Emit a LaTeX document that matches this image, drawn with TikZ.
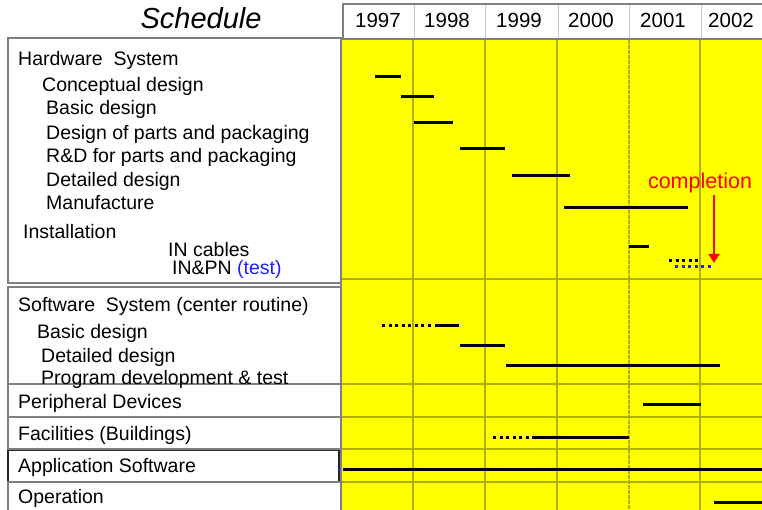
\documentclass[tikz,border=0pt]{standalone}
\usepackage{fontspec}
\setmainfont{Liberation Sans}
\usetikzlibrary{arrows.meta}
\definecolor{ylw}{RGB}{255,255,0}
\definecolor{grd}{RGB}{175,175,0}
\definecolor{bx}{RGB}{128,128,128}
\definecolor{hdsep}{RGB}{200,200,200}
\definecolor{tblue}{RGB}{30,30,255}
\definecolor{tred}{RGB}{255,0,0}
\begin{document}
\begin{tikzpicture}[x=1pt,y=-1pt,
  lbl/.style={anchor=base west,inner sep=0pt,font=\fontsize{19.5}{22}\selectfont},
  yearlbl/.style={anchor=base,inner sep=0pt,font=\fontsize{20.5}{23}\selectfont},
  box/.style={draw=bx,line width=1.2pt},
  gridln/.style={draw=grd,line width=1.3pt},
  bar/.style={line width=3pt},
  dotbar/.style={line width=3pt,dash pattern=on 3pt off 3.5pt},
  bluedot/.style={draw=tblue,line width=3pt,dash pattern=on 3pt off 3.5pt}]
\useasboundingbox (0,0) rectangle (762,510);
% yellow chart area
\fill[ylw] (341,40) rectangle (762,510);
\foreach \x in {413,485,557,700} \draw[gridln] (\x,40) -- (\x,510);
\draw[gridln,dash pattern=on 4pt off 1pt] (629,40) -- (629,510);
\foreach \y in {279,384,417,449,482} \draw[gridln] (341,\y) -- (762,\y);
\draw[bx,line width=1.2pt] (341,40) -- (341,510);
% header
\draw[box,fill=white] (343,4) rectangle (775,39);
\foreach \x in {414,485,558,629,701} \draw[hdsep,line width=1pt] (\x,5) -- (\x,38);
\node[anchor=base,inner sep=0pt,font=\fontsize{29}{32}\selectfont\itshape] (sched) at (201,29) {Schedule};
\node[yearlbl] (y97) at (378,28) {1997};
\node[yearlbl] (y98) at (447,28) {1998};
\node[yearlbl] (y99) at (519,28) {1999};
\node[yearlbl] (y00) at (591,28) {2000};
\node[yearlbl] (y01) at (663,28) {2001};
\node[yearlbl] (y02) at (731,28) {2002};
% left boxes
\draw[box] (8,38) rectangle (341,283);
\draw[box] (8,287) rectangle (341,384);
\draw[box] (8,384) rectangle (341,417);
\draw[box] (8,417) rectangle (341,449);
\draw[draw=black!85,line width=1.3pt] (8,450.5) rectangle (339,482);
\draw[box] (8,515) -- (8,482) -- (341,482);
% labels hardware
\node[lbl] (hw) at (18,66) {Hardware\ \ System};
\node[lbl] (hw1) at (42,92) {Conceptual design};
\node[lbl] (hw2) at (46,115) {Basic design};
\node[lbl] (hw3) at (46,140) {Design of parts and packaging};
\node[lbl] (hw4) at (46,163) {R\&D for parts and packaging};
\node[lbl] (hw5) at (46,187) {Detailed design};
\node[lbl] (hw6) at (46,210) {Manufacture};
\node[lbl] (hw7) at (23,239) {Installation};
\node[lbl] (hw8) at (168,257) {IN cables};
\node[lbl] (hw9) at (172,275) {IN\&PN \textcolor{tblue}{(test)}};
% software
\node[lbl] (sw) at (18,312) {Software\ \ System (center routine)};
\node[lbl] (sw1) at (37,338) {Basic design};
\node[lbl] (sw2) at (41,362) {Detailed design};
\node[lbl] (sw3) at (41,384) {Program development \& test};
\node[lbl] (pd) at (18,408) {Peripheral Devices};
\node[lbl] (fc) at (18,440) {Facilities (Buildings)};
\node[lbl] (as) at (18,472) {Application Software};
\node[lbl] (op) at (18,503) {Operation};
% bars hardware
\draw[bar] (375,77) -- (401,77);
\draw[bar] (401,97) -- (434,97);
\draw[bar] (414,123) -- (453,123);
\draw[bar] (460,149) -- (505,149);
\draw[bar] (512,176) -- (570,176);
\draw[bar] (564,208) -- (688,208);
\draw[bar] (629,247) -- (649,247);
\draw[dotbar] (669,261) -- (701,261);
\draw[bluedot] (675,267) -- (712,267);
% completion
\node[anchor=base,inner sep=0pt,text=tred,font=\fontsize{21.5}{24}\selectfont] (comp) at (700,189) {completion};
\coordinate (arrS) at (714,195);
\coordinate (arrE) at (714,263);
\draw[tred,line width=2.8pt,-{Triangle[length=9pt,width=11pt]}] (arrS) -- (arrE);
% bars software etc
\draw[dotbar] (382,325) -- (432,325);
\draw[bar] (435,325) -- (459,325);
\draw[bar] (460,345) -- (505,345);
\draw[bar] (506,365) -- (720,365);
\draw[bar] (643,404) -- (701,404);
\draw[dotbar] (493,437) -- (530,437);
\draw[bar] (532,437) -- (629,437);
\draw[bar] (343,469) -- (762,469);
\draw[bar] (714,502) -- (762,502);
\end{tikzpicture}
\end{document}
